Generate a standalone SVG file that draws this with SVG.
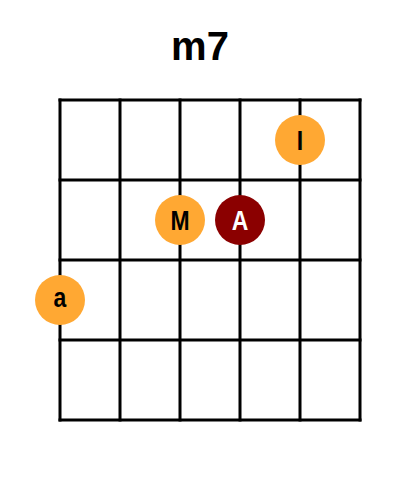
<svg xmlns="http://www.w3.org/2000/svg" width="400" height="500" viewBox="0 0 400 500">
<style>
.grid line{stroke:#000;stroke-width:3;stroke-linecap:square}
.title{font-family:"Liberation Sans",Arial,sans-serif;font-weight:bold;font-size:40px;fill:#000}
.lbl{font-family:"Liberation Sans",Arial,sans-serif;font-weight:bold;font-size:28px;text-anchor:middle}
.o{fill:#FFA833}
.r{fill:#8B0000}
</style>
<rect width="400" height="500" fill="#fff"/>
<text class="title" x="200" y="60" text-anchor="middle">m7</text>
<g id="connectors" class="grid">
<line x1="60" y1="100" x2="360" y2="100"/>
<line x1="60" y1="180" x2="360" y2="180"/>
<line x1="60" y1="260" x2="360" y2="260"/>
<line x1="60" y1="340" x2="360" y2="340"/>
<line x1="60" y1="420" x2="360" y2="420"/>
<line x1="60" y1="100" x2="60" y2="420"/>
<line x1="120" y1="100" x2="120" y2="420"/>
<line x1="180" y1="100" x2="180" y2="420"/>
<line x1="240" y1="100" x2="240" y2="420"/>
<line x1="300" y1="100" x2="300" y2="420"/>
<line x1="360" y1="100" x2="360" y2="420"/>
</g>
<g id="node-I"><circle class="o" cx="300" cy="140" r="25"/><text class="lbl" transform="translate(300 149.5) scale(0.82 1)" fill="#000">I</text></g>
<g id="node-M"><circle class="o" cx="180" cy="220" r="25"/><text class="lbl" transform="translate(180 229.5) scale(0.82 1)" fill="#000">M</text></g>
<g id="node-A"><circle class="r" cx="240" cy="220" r="25"/><text class="lbl" transform="translate(240 229.5) scale(0.82 1)" fill="#fff">A</text></g>
<g id="node-a"><circle class="o" cx="60" cy="300" r="25"/><text class="lbl" transform="translate(60 307) scale(0.82 1)" fill="#000">a</text></g>
</svg>
